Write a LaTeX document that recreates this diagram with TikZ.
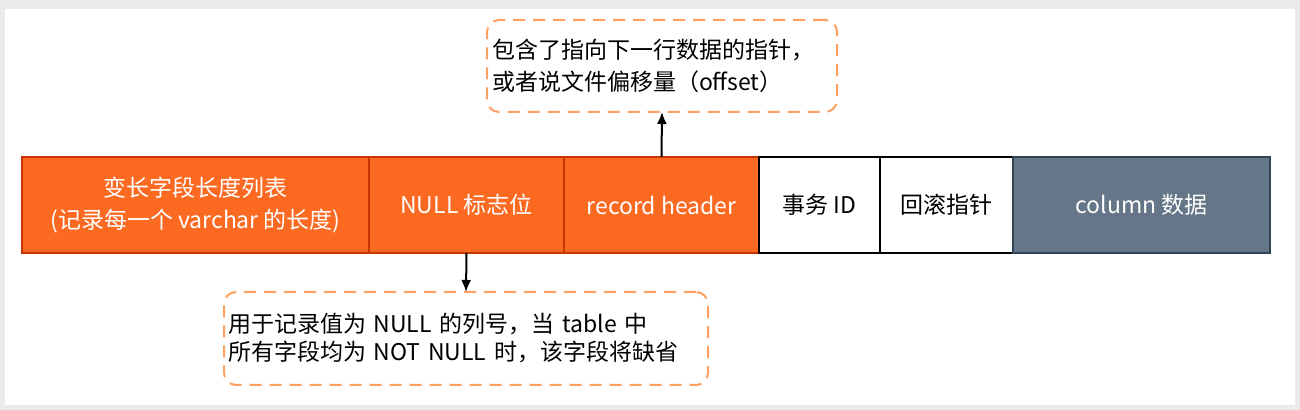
\documentclass[tikz,border=0pt]{standalone}
\usepackage{fontspec}
\setmainfont{Noto Sans CJK SC}
\usepackage{xcolor}
\usepackage{tikz}
\usetikzlibrary{arrows.meta, positioning}

\definecolor{hdrorange}{HTML}{FC6A22}
\definecolor{hdrline}{HTML}{C73500}
\definecolor{slatefill}{HTML}{647687}
\definecolor{slateline}{HTML}{314354}
\definecolor{noteline}{HTML}{FFA060}
\definecolor{framegray}{HTML}{EBEBEB}

\begin{document}
\begin{tikzpicture}[
        x=0.5pt, y=-0.5pt,
        fieldnode/.style={rectangle, line width=1pt, outer sep=0pt, inner sep=2pt, minimum height=48pt, align=center, font=\fontsize{11.5}{16}\selectfont},
        metanode/.style={fieldnode, draw=hdrline, fill=hdrorange, text=white},
        plainnode/.style={fieldnode, draw=black, fill=white, text=black},
        datanode/.style={fieldnode, draw=slateline, fill=slatefill, text=white},
        notenode/.style={rectangle, rounded corners=6pt, draw=noteline, line width=1pt, dash pattern=on 6pt off 4pt, fill=white, inner sep=2pt, outer sep=0pt, align=left, font=\fontsize{11.5}{16}\selectfont},
        linkarrow/.style={-{Latex[length=6pt,width=5pt]}, line width=1pt, color=black}
    ]
        % Frame
        \fill[framegray] (0,0) rectangle (1300,410);
        \fill[white] (5,9) rectangle (1295,405);
        \useasboundingbox (0,0) rectangle (1300,410);

        % Record fields
        \node[metanode, minimum width=173.5pt] (varlen) at (195.5, 205) {变长字段长度列表\\(记录每一个 varchar 的长度)};
        \node[metanode, minimum width=97.5pt] (nullflag) at (466.5, 205) {NULL 标志位};
        \node[metanode, minimum width=97.5pt] (header) at (661.5, 205) {record header};
        \node[plainnode, minimum width=60.5pt] (trxid) at (819.5, 205) {事务 ID};
        \node[plainnode, minimum width=66.5pt] (rollptr) at (946.5, 205) {回滚指针};
        \node[datanode, minimum width=128.5pt] (coldata) at (1141.5, 205) {column 数据};

        % Notes
        \node[notenode, minimum width=175pt, minimum height=46pt, text width=170pt] (headernote) at (662, 66) {包含了指向下一行数据的指针，\\或者说文件偏移量（offset）};
        \node[notenode, minimum width=242pt, minimum height=46.5pt, text width=238pt, font=\fontsize{11.5}{14}\selectfont] (nullnote) at (466, 338.5) {用于记录值为 NULL 的列号，当 table 中\\所有字段均为 NOT NULL 时，该字段将缺省};

        % Connections
        \draw[linkarrow] (header.north) -- (headernote.south);
        \draw[linkarrow] (nullflag.south) -- (nullnote.north);
    \end{tikzpicture}
\end{document}
